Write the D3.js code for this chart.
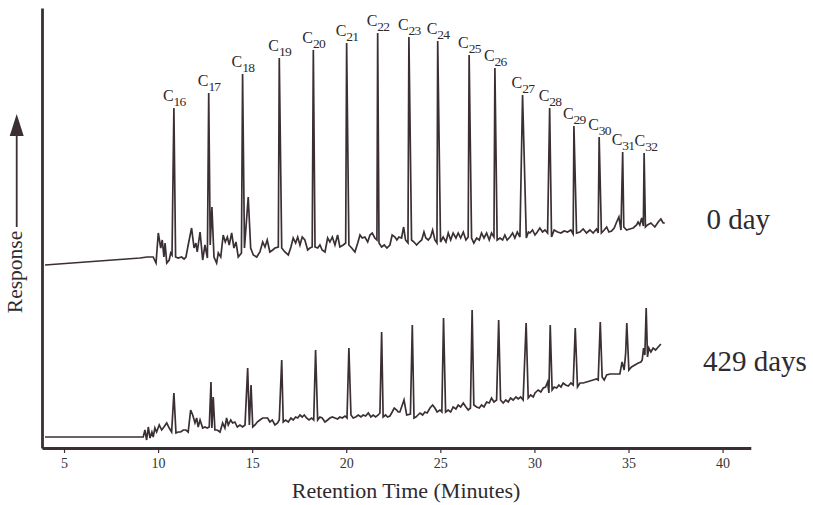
<!DOCTYPE html>
<html>
<head>
<meta charset="utf-8">
<script src="https://cdn.jsdelivr.net/npm/d3@7"></script>
<style>
  body { margin: 0; background: #fff; }
  svg { display: block; }
</style>
</head>
<body>
<div id="chart"></div>
<script>
// retention time (minutes) and detector response (arbitrary units)
const trace0Day = [[3.99,183],[9.04,190],[9.41,191],[9.74,191],[9.89,185],[10.01,215],[10.14,200],[10.22,208],[10.31,191],[10.37,205],[10.46,185],[10.59,188],[10.67,195],[10.74,193],[10.84,340],[10.93,191],[11.07,190],[11.25,191],[11.38,189],[11.48,191],[11.60,203],[11.78,220],[11.91,200],[12.01,205],[12.08,196],[12.23,216],[12.37,188],[12.49,203],[12.62,190],[12.69,355],[12.77,203],[12.86,241],[12.97,191],[13.11,185],[13.20,195],[13.33,191],[13.46,213],[13.57,206],[13.68,211],[13.78,203],[13.91,215],[14.03,200],[14.14,206],[14.26,191],[14.43,195],[14.49,374],[14.59,200],[14.79,251],[14.92,200],[15.06,193],[15.24,191],[15.41,196],[15.56,206],[15.68,201],[15.80,208],[15.94,196],[16.09,198],[16.21,200],[16.39,201],[16.44,390],[16.57,200],[16.74,196],[16.92,193],[17.06,201],[17.18,210],[17.31,205],[17.42,211],[17.54,203],[17.66,211],[17.80,208],[17.95,198],[18.07,200],[18.19,201],[18.25,398],[18.34,201],[18.48,200],[18.60,203],[18.72,198],[18.87,196],[19.01,210],[19.13,206],[19.26,211],[19.40,203],[19.54,213],[19.66,201],[19.84,203],[19.97,205],[20.02,405],[20.14,203],[20.29,200],[20.46,196],[20.61,205],[20.73,213],[20.85,210],[20.99,211],[21.14,206],[21.26,213],[21.38,215],[21.52,210],[21.63,208],[21.67,415],[21.74,205],[21.88,201],[22.02,203],[22.16,200],[22.32,203],[22.44,213],[22.59,211],[22.69,208],[22.80,211],[22.94,210],[23.05,221],[23.15,208],[23.28,205],[23.33,411],[23.47,208],[23.60,206],[23.74,203],[23.88,206],[24.01,208],[24.13,216],[24.23,210],[24.36,208],[24.48,211],[24.59,218],[24.71,208],[24.82,205],[24.86,407],[25.01,206],[25.15,211],[25.30,206],[25.42,215],[25.55,208],[25.68,215],[25.83,210],[25.95,215],[26.08,210],[26.22,216],[26.36,208],[26.48,211],[26.53,393],[26.66,210],[26.78,205],[26.93,210],[27.07,208],[27.19,215],[27.32,210],[27.46,215],[27.60,208],[27.72,215],[27.85,211],[27.90,380],[28.02,208],[28.17,210],[28.31,208],[28.43,213],[28.55,208],[28.70,211],[28.84,215],[28.96,210],[29.09,216],[29.23,211],[29.37,353],[29.57,210],[29.68,216],[29.76,215],[29.90,218],[30.03,213],[30.15,216],[30.29,220],[30.43,216],[30.56,218],[30.70,215],[30.81,340],[30.91,211],[31.05,218],[31.23,216],[31.41,215],[31.58,217],[31.76,216],[31.94,218],[32.06,214],[32.10,322],[32.24,215],[32.42,216],[32.59,219],[32.77,215],[32.95,218],[33.12,215],[33.30,219],[33.39,215],[33.44,311],[33.56,215],[33.71,218],[33.84,221],[33.96,216],[34.10,217],[34.24,220],[34.37,226],[34.49,231],[34.60,218],[34.69,296],[34.75,221],[34.90,218],[35.07,219],[35.25,220],[35.43,223],[35.51,226],[35.60,223],[35.70,230],[35.79,222],[35.83,295],[35.90,221],[36.01,223],[36.19,225],[36.40,221],[36.58,226],[36.72,229],[36.84,225],[36.93,225]];

const trace429Days = [[3.99,11],[9.21,11],[9.30,18],[9.39,8],[9.48,21],[9.57,10],[9.67,16],[9.74,11],[9.83,20],[9.92,16],[10.06,23],[10.19,18],[10.31,21],[10.46,25],[10.59,20],[10.72,16],[10.84,55],[10.95,15],[11.07,16],[11.20,16],[11.34,18],[11.48,18],[11.60,16],[11.73,38],[11.84,33],[11.96,25],[12.05,30],[12.13,21],[12.23,28],[12.37,20],[12.49,21],[12.61,20],[12.72,21],[12.81,66],[12.86,20],[12.93,51],[13.02,18],[13.14,18],[13.29,16],[13.43,25],[13.55,20],[13.64,30],[13.73,23],[13.86,28],[13.96,25],[14.08,26],[14.21,21],[14.35,23],[14.49,21],[14.62,23],[14.76,80],[14.85,23],[14.94,63],[15.03,21],[15.15,23],[15.27,26],[15.41,28],[15.56,30],[15.68,30],[15.82,30],[15.94,26],[16.07,28],[16.21,23],[16.35,25],[16.44,28],[16.57,88],[16.65,26],[16.78,28],[16.92,26],[17.06,30],[17.18,28],[17.31,31],[17.42,30],[17.54,33],[17.66,31],[17.77,33],[17.89,30],[18.02,28],[18.16,30],[18.27,28],[18.37,98],[18.48,28],[18.60,31],[18.72,30],[18.87,26],[19.01,28],[19.13,30],[19.26,31],[19.40,30],[19.54,29],[19.66,31],[19.79,30],[19.93,32],[20.04,30],[20.14,100],[20.25,33],[20.37,30],[20.50,31],[20.64,33],[20.78,31],[20.90,33],[21.03,32],[21.17,35],[21.31,31],[21.43,33],[21.56,31],[21.70,33],[21.79,35],[21.88,116],[21.96,31],[22.09,33],[22.20,31],[22.32,32],[22.44,36],[22.55,40],[22.68,38],[22.76,36],[22.85,36],[23.07,48],[23.21,33],[23.41,34],[23.51,123],[23.60,30],[23.70,31],[23.81,33],[23.92,35],[24.06,33],[24.18,36],[24.30,35],[24.45,40],[24.59,43],[24.71,40],[24.83,36],[24.98,38],[25.08,36],[25.17,130],[25.28,36],[25.42,38],[25.55,36],[25.68,41],[25.83,39],[25.95,43],[26.08,41],[26.22,45],[26.36,41],[26.48,38],[26.60,40],[26.69,138],[26.78,43],[26.93,41],[27.07,40],[27.19,43],[27.32,41],[27.46,46],[27.60,45],[27.72,50],[27.85,46],[27.99,48],[28.10,128],[28.20,48],[28.34,45],[28.48,48],[28.61,46],[28.73,50],[28.87,48],[29.02,51],[29.14,49],[29.27,51],[29.40,48],[29.56,125],[29.67,50],[29.80,53],[29.94,51],[30.03,55],[30.20,58],[30.34,56],[30.47,60],[30.59,61],[30.70,66],[30.77,55],[30.84,123],[30.94,58],[31.05,61],[31.18,60],[31.30,63],[31.41,61],[31.53,65],[31.66,63],[31.80,62],[31.94,65],[32.06,63],[32.17,120],[32.29,61],[32.42,65],[32.59,65],[32.77,66],[32.95,67],[33.12,68],[33.30,69],[33.39,68],[33.50,126],[33.60,71],[33.71,68],[33.84,73],[34.01,74],[34.28,74],[34.54,74],[34.66,86],[34.77,78],[34.85,95],[34.91,125],[35.02,78],[35.16,81],[35.34,83],[35.52,85],[35.66,86],[35.73,88],[35.80,100],[35.87,93],[35.94,140],[36.01,91],[36.08,100],[36.19,96],[36.31,100],[36.44,98],[36.58,101],[36.72,104]];

// n-alkane peaks labelled on the 0 day trace
const carbonNumbers = [16,17,18,19,20,21,22,23,24,25,26,27,28,29,30,31,32];
const peakTimes = [10.84,12.69,14.49,16.44,18.25,20.02,21.67,23.33,24.86,26.53,27.90,29.37,30.81,32.10,33.44,34.69,35.83];

const xTicks = [5,10,15,20,25,30,35,40];
const traceNames = ["0 day", "429 days"];

const width = 813, height = 505;
const ink = "#3b2f36";
const font = "'Liberation Serif', 'Times New Roman', serif";

const svg = d3.select("#chart").append("svg")
    .attr("width", width).attr("height", height)
    .style("font-family", font);

const x = d3.scaleLinear()
    .domain([3.83, 41.5])
    .range([42, 750.8]);

const y = d3.scaleLinear()
    .domain([0, 440])
    .range([448, 8]);

const line = d3.line()
    .x(d => x(d[0]))
    .y(d => y(d[1]));

// traces
svg.append("g")
  .selectAll("path")
  .data([trace0Day, trace429Days])
  .join("path")
    .attr("d", line)
    .attr("fill", "none")
    .attr("stroke", ink)
    .attr("stroke-width", 1.7)
    .attr("stroke-linejoin", "miter");

// axes
svg.append("g")
    .attr("transform", `translate(0,${y(0)})`)
    .call(d3.axisBottom(x).tickValues(xTicks).tickSize(5).tickSizeOuter(0).tickPadding(5))
    .call(g => g.select(".domain").attr("stroke", ink).attr("stroke-width", 2.8))
    .call(g => g.selectAll(".tick line").attr("stroke", ink).attr("stroke-width", 1.2))
    .call(g => g.selectAll("text")
        .style("font-family", font)
        .style("font-size", "14px")
        .attr("fill", "#333"));

svg.append("g")
    .attr("transform", `translate(${x.range()[0]},0)`)
    .call(d3.axisLeft(y).ticks(0).tickSizeOuter(0))
    .call(g => g.select(".domain").attr("stroke", ink).attr("stroke-width", 2.8));

// peak labels: C with subscript carbon number, just above each peak
function peakTop(t) {
  return d3.max(trace0Day.filter(d => Math.abs(d[0] - t) < 0.08), d => d[1]);
}

const labels = svg.append("g")
  .selectAll("text")
  .data(carbonNumbers)
  .join("text")
    .attr("x", (d, i) => x(peakTimes[i]) - 11 + (d === 32 ? 1.5 : 0))
    .attr("y", (d, i) => y(peakTop(peakTimes[i])) - 7)
    .attr("fill", "#2e2a2d")
    .style("font-size", "16px");

labels.append("tspan").text("C");
labels.append("tspan")
    .attr("dy", 5)
    .style("font-size", "13.5px")
    .attr("letter-spacing", "-0.8")
    .text(d => d);

// trace names
svg.append("g")
  .selectAll("text")
  .data(traceNames)
  .join("text")
    .attr("x", (d, i) => i === 0 ? 770 : 703)
    .attr("y", (d, i) => i === 0 ? 229 : 371)
    .attr("text-anchor", (d, i) => i === 0 ? "end" : "start")
    .attr("fill", "#2e2a2d")
    .style("font-size", "29px")
    .text(d => d);

// axis titles
svg.append("text")
    .attr("x", 406)
    .attr("y", 498)
    .attr("text-anchor", "middle")
    .attr("fill", "#2e2a2d")
    .style("font-size", "22px")
    .text("Retention Time (Minutes)");

svg.append("text")
    .attr("transform", "translate(22,272) rotate(-90)")
    .attr("text-anchor", "middle")
    .attr("fill", "#2e2a2d")
    .style("font-size", "21.5px")
    .text("Response");

// response arrow
svg.append("line")
    .attr("x1", 16.7).attr("x2", 16.7)
    .attr("y1", 227).attr("y2", 132)
    .attr("stroke", ink)
    .attr("stroke-width", 1.8);

svg.append("path")
    .attr("d", d3.line()([[9.7, 136], [16.7, 114], [23.7, 136]]) + "Z")
    .attr("fill", ink);
</script>
</body>
</html>
